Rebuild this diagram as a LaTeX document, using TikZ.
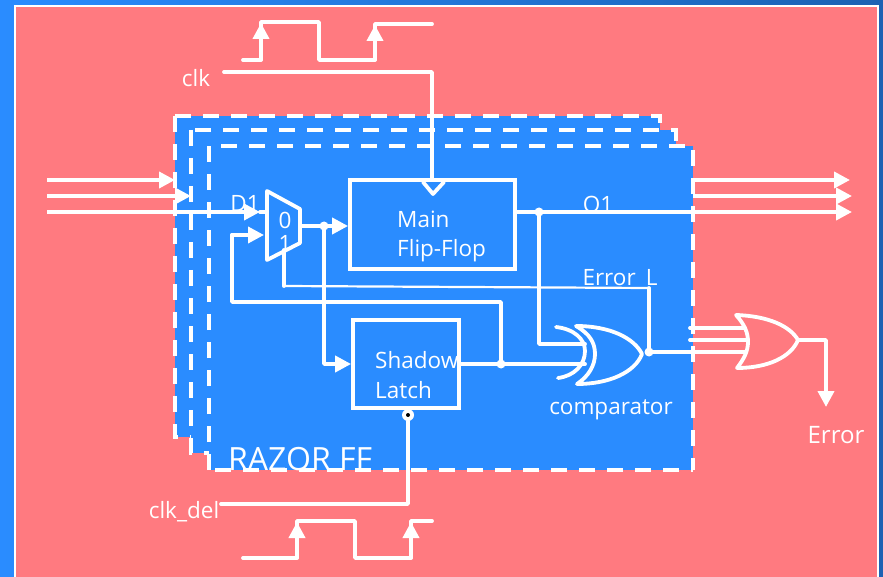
\documentclass[tikz,border=0pt]{standalone}
\usepackage{fontspec}
\setmainfont{Open Sans}
\usetikzlibrary{arrows.meta}
\definecolor{razorblue}{HTML}{2A8CFF}
\definecolor{razorpink}{HTML}{FF7A80}
\tikzset{
  wire/.style={draw=white,line width=3.8pt,line join=round,line cap=round},
  thinwire/.style={draw=white,line width=2.2pt},
  feed/.style={wire,-{Triangle[length=16pt,width=16pt]}},
  stage/.style={draw=white,fill=razorblue,line width=4pt,dash pattern=on 16pt off 12pt},
  block/.style={draw=white,line width=3.8pt,inner sep=0pt},
  lab/.style={text=white,font=\fontsize{22.5}{25}\selectfont,inner sep=0pt},
  jdot/.style={fill=white,circle,inner sep=0pt,minimum size=9pt}
}
\begin{document}
\begin{tikzpicture}[x=1pt,y=-1pt]
  \useasboundingbox (0,0) rectangle (883,577);
  \shade [left color=razorblue,right color=razorblue!70!black] (0,0) rectangle (883,577);
  \draw [white,line width=2pt,fill=razorpink] (15,6) rectangle (878,590);
  % stacked stages
  \draw [stage] (175,116) rectangle (660,437);
  \draw [stage] (191,130) rectangle (676,453);
  \draw [stage,draw=none] (209,146) rectangle (693,470);
  \draw [stage,fill=none] (209,470) -- (209,146) -- (693,146) -- (693,470);
  \node [lab,anchor=base west,font=\fontsize{32}{34}\selectfont] (razor) at (228,470) {RAZOR FF};
  \draw [white,line width=4pt,dash pattern=on 16pt off 12pt] (215,470) -- (693,470);
  % blocks
  \node [block,minimum width=165pt,minimum height=89pt] (main) at (432.5,224.5) {};
  \node [block,minimum width=106pt,minimum height=88pt] (shadow) at (406,364) {};
  \node [lab,anchor=base west,align=left] (maintext) at (397,228) {Main};
  \node [lab,anchor=base west] (flipflop) at (397,257) {Flip-Flop};
  \node [lab,anchor=base west] (shadowtext) at (375,368) {Shadow};
  \node [lab,anchor=base west] (latchtext) at (375,398) {Latch};
  % mux
  \coordinate (muxa) at (267,191);
  \coordinate (muxb) at (300,209);
  \coordinate (muxc) at (300,243);
  \coordinate (muxd) at (267,260);
  \coordinate (muxout) at (300,226);
  \coordinate (muxin) at (267,212);
  \draw [wire] (muxa) -- (muxb) -- (muxc) -- (muxd) -- cycle;
  \node [lab] (zero) at (285,220) {0};
  \node [lab] (one) at (285,243) {1};
  \node [lab] (d1) at (245,203) {D1};
  % inputs
  \coordinate (ina) at (47,180);
  \coordinate (inb) at (47,196);
  \coordinate (inc) at (47,212);
  \coordinate (tipa) at (175,180);
  \coordinate (tipb) at (191,196);
  \coordinate (tipc) at (260,212);
  \draw [feed,line cap=butt] (ina) -- (tipa);
  \draw [feed,line cap=butt] (inb) -- (tipb);
  \draw [feed,line cap=butt] (inc) -- (tipc);
  \draw [wire] (tipc) -- (muxin);
  % data path
  \node [jdot] (fork) at (324,226) {};
  \node [jdot] (obranch) at (539,212) {};
  \node [jdot] (sbranch) at (501,364) {};
  \node [jdot] (xout) at (649,352) {};
  \coordinate (forkdown) at (324,364);
  \coordinate (odown) at (539,344);
  \coordinate (xora) at (585,344);
  \coordinate (xorb) at (585,364);
  \coordinate (fbtop) at (501,302);
  \coordinate (fbleft) at (232,302);
  \coordinate (fbup) at (232,235);
  \coordinate (fbtip) at (264,235);
  \draw [feed] (muxout) -- (main.west |- muxout);
  \draw [feed] (fork) -- (forkdown) -- (shadow.west);
  \draw [wire] (shadow.east) -- (sbranch) -- (xorb);
  \draw [wire] (sbranch) -- (fbtop) -- (fbleft) -- (fbup);
  \draw [feed] (fbup) -- (fbtip);
  \draw [wire] (obranch) -- (odown) -- (xora);
  % main output and right arrows
  \coordinate (oa) at (693,180);
  \coordinate (ob) at (693,196);
  \coordinate (oc) at (693,212);
  \coordinate (outa) at (850,180);
  \coordinate (outb) at (852,196);
  \coordinate (outc) at (852,212);
  \draw [wire] (main.east |- obranch) -- (oc);
  \draw [feed,line cap=butt] (oa) -- (outa);
  \draw [feed,line cap=butt] (ob) -- (outb);
  \draw [feed,line cap=butt] (oc) -- (outc);
  \node [lab] (o1) at (598,204) {O1};
  % error line
  \coordinate (errstart) at (284,250);
  \coordinate (errcorner) at (284,286);
  \coordinate (errend) at (649,288);
  \draw [wire] (errstart) -- (errcorner);
  \draw [thinwire] (errcorner) -- (errend);
  \draw [wire] (errend) -- (xout);
  \node [lab] (errorl) at (620,279) {Error\_L};
  % comparator
  \draw [wire] (556,327) .. controls (574,329) and (585,339) .. (585,351) .. controls (585,365) and (574,376) .. (558,378);
  \draw [wire] (576,326) .. controls (590,334) and (595,343) .. (595,354) .. controls (595,365) and (589,376) .. (577,384)
    .. controls (610,384) and (635,372) .. (642,354) .. controls (634,338) and (610,326) .. (576,326);
  \node [lab] (comparator) at (611,410) {comparator};
  % error gate
  \coordinate (gatea) at (690,328);
  \coordinate (gateb) at (690,340);
  \coordinate (gatec) at (690,352);
  \coordinate (gated) at (745,328);
  \coordinate (gatee) at (747,340);
  \coordinate (gatef) at (745,352);
  \draw [wire] (gatea) -- (gated);
  \draw [wire] (gateb) -- (gatee);
  \draw [wire] (xout) -- (gatec) -- (gatef);
  \draw [wire] (736,315) .. controls (745,325) and (748,333) .. (748,342) .. controls (748,351) and (744,359) .. (737,368)
    .. controls (768,368) and (791,357) .. (798,340) .. controls (790,326) and (768,316) .. (736,315);
  \coordinate (gateout) at (798,340);
  \coordinate (gatecorner) at (826,340);
  \coordinate (gatetip) at (826,407);
  \draw [feed] (gateout) -- (gatecorner) -- (gatetip);
  \node [lab,font=\fontsize{24}{26}\selectfont] (error) at (836,435) {Error};
  % clk
  \node [lab] (clk) at (196,78) {clk};
  \coordinate (clkstart) at (224,72);
  \coordinate (clkcorner) at (432,72);
  \coordinate (clkpin) at (432,180);
  \draw [wire] (clkstart) -- (clkcorner) -- (clkpin);
  \draw [wire] (423,182) -- (433,194) -- (444,182);
  \coordinate (wa) at (243,60);
  \coordinate (wb) at (261,60);
  \coordinate (wc) at (261,22);
  \coordinate (wd) at (319,22);
  \coordinate (we) at (319,60);
  \coordinate (wf) at (375,60);
  \coordinate (wg) at (375,24);
  \coordinate (wh) at (432,24);
  \draw [wire] (wa) -- (wb) -- (wc) -- (wd) -- (we) -- (wf) -- (wg) -- (wh);
  \draw [feed] (wb) -- ([yshift=-1pt]wc);
  \draw [feed] (wf) -- ([yshift=-1pt]wg);
  % clk_del
  \node [lab] (clkdel) at (184,512) {clk\_del};
  \node [circle,fill=white,inner sep=0pt,minimum size=12pt] (bubble) at (408,415) {};
  \node [circle,fill=black,inner sep=0pt,minimum size=4pt] (bubbledot) at (408,415) {};
  \coordinate (delstart) at (221,504);
  \coordinate (delcorner) at (408,504);
  \draw [wire] (delstart) -- (delcorner) -- (bubble);
  \coordinate (va) at (243,558);
  \coordinate (vb) at (297,558);
  \coordinate (vc) at (297,521);
  \coordinate (vd) at (355,521);
  \coordinate (ve) at (355,558);
  \coordinate (vf) at (411,558);
  \coordinate (vg) at (411,521);
  \coordinate (vh) at (432,521);
  \draw [wire] (va) -- (vb) -- (vc) -- (vd) -- (ve) -- (vf) -- (vg) -- (vh);
  \draw [feed] (vb) -- ([yshift=-1pt]vc);
  \draw [feed] (vf) -- ([yshift=-1pt]vg);
\end{tikzpicture}
\end{document}
